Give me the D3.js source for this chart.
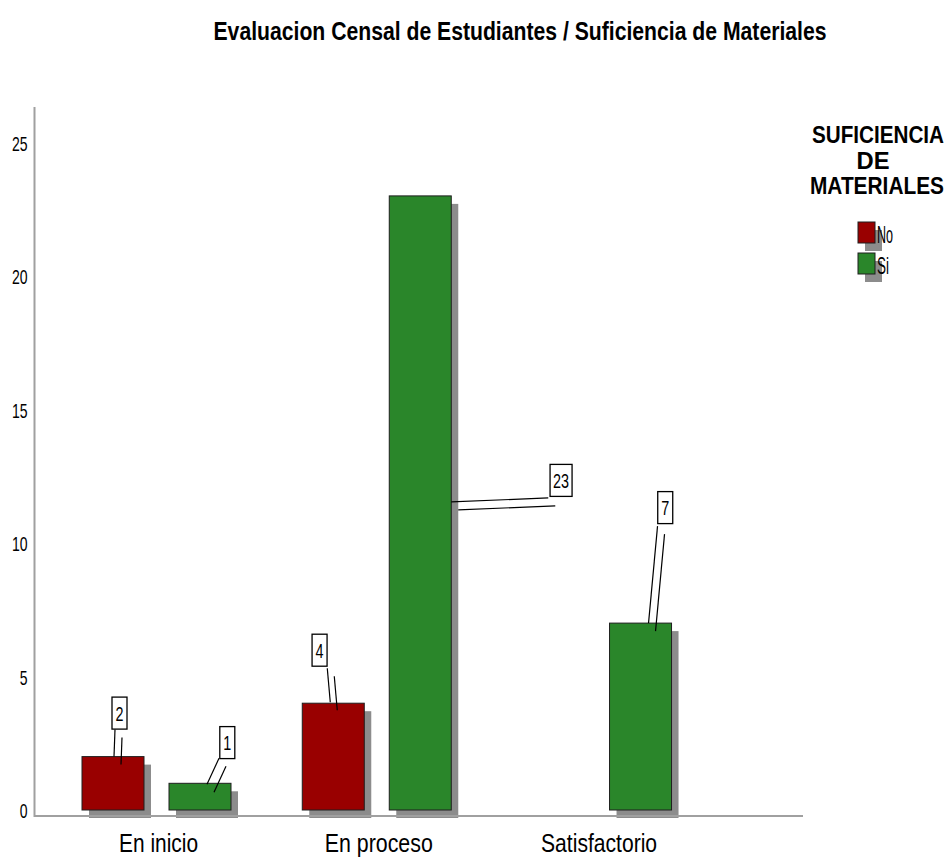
<!DOCTYPE html>
<html>
<head>
<meta charset="utf-8">
<script src="https://cdn.jsdelivr.net/npm/d3@7/dist/d3.min.js"></script>
<style>
  html, body { margin: 0; padding: 0; background: #fff; }
  svg { display: block; }
  text { font-family: "Liberation Sans Narrow", "Arial Narrow", "Liberation Sans", Arial, sans-serif; fill: #000; }
</style>
</head>
<body>
<script>
// ---- data ----
const categories = ["En inicio", "En proceso", "Satisfactorio"];
const seriesNames = ["No", "Si"];
const valuesNo = [2, 4, 0];
const valuesSi = [1, 23, 7];
const yTicks = [0, 5, 10, 15, 20, 25];
const titleText = "Evaluacion Censal de Estudiantes / Suficiencia de Materiales";
const legendTitle = ["SUFICIENCIA", "DE", "MATERIALES"];

// ---- styles / layout (kept apart from data) ----
const colors = { No: "#990000", Si: "#2a862a" };
const W = 952, H = 858;
const shadow = { dx: 7, dy: 8, color: "#8c8c8c" };
const labelLayout = {
  "En inicio|No":     { box: [6.5, -43.5],  start: [-4.5, 16.5], end: [1, 0] },
  "En inicio|Si":     { box: [27.3, -40.7], start: [-8.3, 15.7], end: [7, 1] },
  "En proceso|No":    { box: [-13.7, -53],  start: [7.7, 18],    end: [-3, -1] },
  "En proceso|Si":    { box: [140.8, 284.5],start: [-12.8, 17.5],end: [31, 306] },
  "Satisfactorio|Si": { box: [24.7, -115.5],start: [-7.7, 18.5], end: [8, 0] }
};

const svg = d3.select("body").append("svg").attr("width", W).attr("height", H);

const y = d3.scaleLinear().domain([0, 25]).range([810, 142.5]);
const x = d3.scaleBand().domain(categories).range([46.4, 707.2]).paddingInner(0).paddingOuter(0);
const xs = d3.scaleBand().domain(seriesNames).range([35.6, 184.6]).paddingInner(25 / 87).paddingOuter(0);

// title
svg.append("text")
  .attr("x", 520).attr("y", 40)
  .attr("text-anchor", "middle")
  .attr("font-size", 25).attr("font-weight", "bold")
  .attr("textLength", 613).attr("lengthAdjust", "spacingAndGlyphs")
  .text(titleText);

// y axis labels
const yAxis = d3.axisLeft(y).tickValues(yTicks).tickSize(0).tickPadding(0).tickFormat(d3.format("d"));
const gy = svg.append("g").attr("transform", "translate(27.5,0)").call(yAxis);
gy.select(".domain").remove();
gy.selectAll("text")
  .attr("font-size", 21)
  .attr("font-family", null)
  .attr("dy", "0.36em")
  .each(function(d) {
    const s = String(d);
    d3.select(this).attr("textLength", s.length * 7.8).attr("lengthAdjust", "spacingAndGlyphs");
  });

// data rows
const rows = [];
categories.forEach((c, i) => {
  rows.push({ cat: c, ser: "No", v: valuesNo[i] });
  rows.push({ cat: c, ser: "Si", v: valuesSi[i] });
});
const bars = rows.filter(d => d.v > 0);

// shadows
svg.append("g").selectAll("rect").data(bars).join("rect")
  .attr("x", d => x(d.cat) + xs(d.ser) + shadow.dx)
  .attr("y", d => y(d.v) + shadow.dy)
  .attr("width", xs.bandwidth())
  .attr("height", d => y(0) - y(d.v))
  .attr("fill", shadow.color);

// axis lines
svg.append("line").attr("x1", 34.5).attr("x2", 34.5).attr("y1", 107).attr("y2", 817)
  .attr("stroke", "#a0a0a0").attr("stroke-width", 2);
svg.append("line").attr("x1", 34).attr("x2", 803).attr("y1", 816).attr("y2", 816)
  .attr("stroke", "#a0a0a0").attr("stroke-width", 2);

// bars
svg.append("g").selectAll("rect").data(bars).join("rect")
  .attr("x", d => x(d.cat) + xs(d.ser))
  .attr("y", d => y(d.v))
  .attr("width", xs.bandwidth())
  .attr("height", d => y(0) - y(d.v))
  .attr("fill", d => colors[d.ser])
  .attr("stroke", "#1e1e1e").attr("stroke-width", 1);

// category labels
const catWidths = { "En inicio": 79, "En proceso": 108, "Satisfactorio": 116 };
svg.append("g").selectAll("text").data(categories).join("text")
  .attr("x", d => x(d) + x.bandwidth() / 2 + 2)
  .attr("y", 852)
  .attr("text-anchor", "middle")
  .attr("font-size", 26)
  .attr("textLength", d => catWidths[d]).attr("lengthAdjust", "spacingAndGlyphs")
  .text(d => d);

// value callouts
const gl = svg.append("g");
bars.forEach(d => {
  const L = labelLayout[d.cat + "|" + d.ser];
  if (!L) return;
  const cx = x(d.cat) + xs(d.ser) + xs.bandwidth() / 2;
  const ty = y(d.v);
  const bx = cx + L.box[0], by = ty + L.box[1];
  const s = String(d.v);
  const bw = s.length > 1 ? 22 : 15, bh = 32;
  const sx = bx + L.start[0], sy = by + L.start[1];
  const ex = cx + L.end[0], ey = ty + L.end[1];
  [[0, 0], [shadow.dx, shadow.dy]].forEach(o => {
    gl.append("line")
      .attr("x1", sx + o[0]).attr("y1", sy + o[1])
      .attr("x2", ex + o[0]).attr("y2", ey + o[1])
      .attr("stroke", "#000").attr("stroke-width", 1.2);
  });
  gl.append("rect")
    .attr("x", bx - bw / 2).attr("y", by - bh / 2)
    .attr("width", bw).attr("height", bh)
    .attr("fill", "#fff").attr("stroke", "#000").attr("stroke-width", 1.3);
  gl.append("text")
    .attr("x", bx).attr("y", by + 7.5)
    .attr("text-anchor", "middle")
    .attr("font-size", 21)
    .attr("textLength", s.length * 8).attr("lengthAdjust", "spacingAndGlyphs")
    .text(s);
});

// legend
const ltWidths = [132, 33, 134];
const ltCenter = [878, 873, 877];
legendTitle.forEach((t, i) => {
  svg.append("text")
    .attr("transform", `translate(${ltCenter[i]},${143 + i * 25.5}) scale(1,1.2)`)
    .attr("text-anchor", "middle")
    .attr("font-size", 20.5).attr("font-weight", "bold")
    .attr("textLength", ltWidths[i]).attr("lengthAdjust", "spacingAndGlyphs")
    .text(t);
});
const lg = svg.append("g");
const legY = d3.scalePoint().domain(seriesNames).range([222, 253]);
const itemWidths = { No: 16, Si: 12 };
seriesNames.forEach(s => {
  lg.append("rect").attr("x", 858 + shadow.dx).attr("y", legY(s) + shadow.dy)
    .attr("width", 17).attr("height", 21).attr("fill", shadow.color);
});
seriesNames.forEach(s => {
  lg.append("rect").attr("x", 858).attr("y", legY(s))
    .attr("width", 17).attr("height", 21).attr("fill", colors[s])
    .attr("stroke", "#1e1e1e").attr("stroke-width", 1);
  lg.append("text").attr("x", 877).attr("y", legY(s) + 21)
    .attr("font-size", 24)
    .attr("textLength", itemWidths[s]).attr("lengthAdjust", "spacingAndGlyphs")
    .text(s);
});
</script>
</body>
</html>
